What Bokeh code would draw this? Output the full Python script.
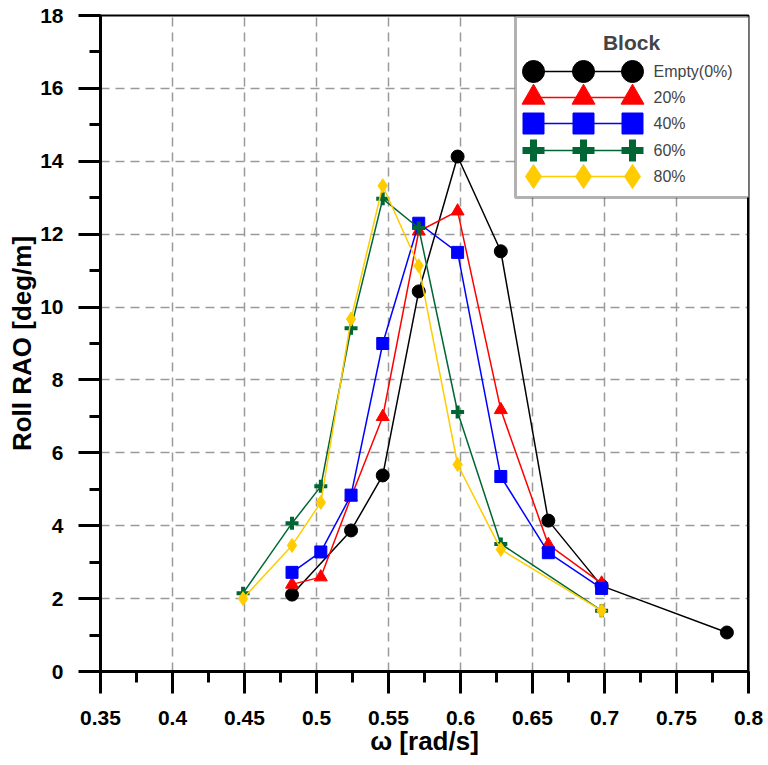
from bokeh.plotting import figure
from bokeh.models import Range1d, SingleIntervalTicker, BoxAnnotation, Label, Span
from bokeh.embed import file_html
from bokeh.resources import INLINE

# ---------------- data ----------------
w_empty = [0.483, 0.524, 0.546, 0.571, 0.598, 0.628, 0.661, 0.698, 0.785]
rao_empty = [2.11, 3.87, 5.38, 10.43, 14.13, 11.53, 4.14, 2.35, 1.07]

w_20 = [0.483, 0.503, 0.524, 0.546, 0.571, 0.598, 0.628, 0.661, 0.698]
rao_20 = [2.39, 2.59, 4.78, 6.99, 12.08, 12.63, 7.18, 3.48, 2.42]

w_40 = [0.483, 0.503, 0.524, 0.546, 0.571, 0.598, 0.628, 0.661, 0.698]
rao_40 = [2.72, 3.28, 4.84, 9.00, 12.30, 11.50, 5.35, 3.26, 2.28]

w_60 = [0.449, 0.483, 0.503, 0.524, 0.546, 0.571, 0.598, 0.628, 0.698]
rao_60 = [2.15, 4.07, 5.08, 9.42, 12.97, 12.17, 7.12, 3.50, 1.67]

w_80 = [0.449, 0.483, 0.503, 0.524, 0.546, 0.571, 0.598, 0.628, 0.698]
rao_80 = [2.00, 3.46, 4.64, 9.67, 13.33, 11.13, 5.68, 3.35, 1.67]

series_names = ["Empty(0%)", "20%", "40%", "60%", "80%"]
legend_title = "Block"
x_ticks = [0.35, 0.4, 0.45, 0.5, 0.55, 0.6, 0.65, 0.7, 0.75, 0.8]
x_tick_labels = ["0.35", "0.4", "0.45", "0.5", "0.55", "0.6", "0.65", "0.7", "0.75", "0.8"]

# ---------------- layout ----------------
W, H = 768, 765
FL, FR, FT, FB = 100, 748, 15, 671   # intended frame edges in canvas px
XMIN, XMAX, YMIN, YMAX = 0.35, 0.8, 0.0, 18.0
FONT = "Liberation Sans"

p = figure(width=W, height=H, output_backend="svg", toolbar_location=None,
           x_range=Range1d(XMIN, XMAX), y_range=Range1d(YMIN, YMAX),
           min_border_left=FL, min_border_right=W - FR,
           min_border_top=FT, min_border_bottom=H - FB)
p.background_fill_color = "white"
p.border_fill_color = "white"
p.outline_line_color = "black"
p.outline_line_width = 2

# axes
for ax in (p.xaxis[0], p.yaxis[0]):
    ax.axis_line_width = 3
    ax.major_tick_line_width = 3
    ax.minor_tick_line_width = 3
    ax.major_tick_out = 22
    ax.major_tick_in = 0
    ax.minor_tick_out = 11
    ax.minor_tick_in = 0
    ax.major_label_text_font = FONT
    ax.major_label_text_font_style = "bold"
    ax.major_label_text_font_size = "21px"
    ax.major_label_text_color = "black"
    ax.axis_label_text_font = FONT
    ax.axis_label_text_font_style = "bold"
    ax.axis_label_text_font_size = "26px"
    ax.axis_label_text_color = "black"

p.xaxis[0].ticker = SingleIntervalTicker(interval=0.05, num_minor_ticks=2)
p.xaxis[0].major_label_overrides = {t: l for t, l in zip(x_ticks, x_tick_labels)}
p.xaxis[0].major_label_standoff = 17
p.xaxis[0].axis_label = "ω [rad/s]"
p.xaxis[0].axis_label_standoff = -2

p.yaxis[0].ticker = SingleIntervalTicker(interval=2, num_minor_ticks=2)
p.yaxis[0].major_label_standoff = 15
p.yaxis[0].axis_label = "Roll RAO [deg/m]"
p.yaxis[0].axis_label_standoff = 0

# thick right border
p.add_layout(Span(location=XMAX, dimension="height", line_color="black", line_width=3))

# grid
for g in (p.xgrid[0], p.ygrid[0]):
    g.grid_line_color = "#9a9a9a"
    g.grid_line_width = 1.5
    g.grid_line_dash = "9 6"
p.xgrid[0].ticker = p.xaxis[0].ticker
p.ygrid[0].ticker = p.yaxis[0].ticker

colors = ["black", "#ff0000", "#0000ff", "#006633", "#ffcc00"]
markers = ["circle", "triangle", "square", "cross", "diamond"]
sizes = [13, 13, 12, 13, 14]
lsizes = [22, 23, 21, 22, 24]
xs = [w_empty, w_20, w_40, w_60, w_80]
ys = [rao_empty, rao_20, rao_40, rao_60, rao_80]

for x, y, c, m, s in zip(xs, ys, colors, markers, sizes):
    p.line(x, y, line_color=c, line_width=1.5)
    if m == "cross":
        p.scatter(x, y, marker=m, size=s, line_color=c, line_width=4)
    else:
        p.scatter(x, y, marker=m, size=s, fill_color=c, line_color=c)

# ---------------- legend (drawn manually, positions in canvas px -> data) ----------------
def sx(px):
    return XMIN + (px - FL) / (FR - FL) * (XMAX - XMIN)

def sy(py):
    return YMAX - (py - FT) / (FB - FT) * (YMAX - YMIN)

box = BoxAnnotation(left=sx(515), right=sx(749), top=sy(16), bottom=sy(197),
                    fill_color="white", fill_alpha=1.0,
                    line_color="black", line_width=3, level="annotation")
p.add_layout(box)

p.add_layout(Label(x=sx(631), y=sy(42), text=legend_title,
                   text_font=FONT, text_font_style="bold", text_font_size="21px",
                   text_align="center", text_baseline="middle", level="overlay"))

row_y = [71, 97, 123, 150, 176]
mx = [533, 583, 632]
for ry, name, c, m, s in zip(row_y, series_names, colors, markers, lsizes):
    p.line([sx(mx[0]), sx(mx[2])], [sy(ry), sy(ry)], line_color=c, line_width=1.5, level="overlay")
    if m == "cross":
        p.scatter([sx(v) for v in mx], [sy(ry)] * 3, marker=m, size=s, line_color=c,
                  line_width=7, level="overlay")
    else:
        p.scatter([sx(v) for v in mx], [sy(ry)] * 3, marker=m, size=s, fill_color=c,
                  line_color=c, level="overlay")
    p.add_layout(Label(x=sx(653), y=sy(ry), text=name,
                       text_font=FONT, text_font_size="16px", text_baseline="middle",
                       level="overlay"))

open("out.html", "w").write(file_html(p, INLINE))
